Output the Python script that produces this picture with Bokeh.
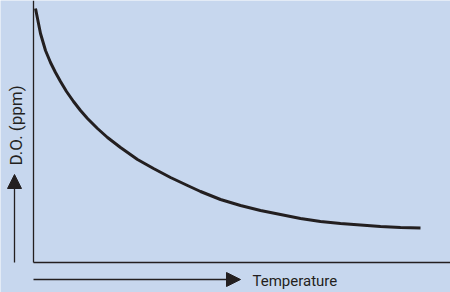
import math
from bokeh.plotting import figure
from bokeh.models import Range1d, Arrow, NormalHead, ColumnDataSource
from bokeh.core.properties import value
from bokeh.embed import file_html
from bokeh.resources import INLINE

# Curve: dissolved oxygen vs temperature (arbitrary units)
temperature = [2, 7, 12, 17, 22, 27, 33, 40, 47, 54, 64, 74, 87, 104, 120, 137, 154, 167,
               187, 207, 227, 247, 267, 287, 307, 327, 347, 367, 387]
do_ppm = [254, 229, 212, 200, 190, 181, 171, 161, 152, 144, 134, 125, 115, 103, 94, 85, 77, 71,
          63, 57, 52, 48, 44, 41, 39, 37.5, 36, 35, 34.5]

x_label = "Temperature"
y_label = "D.O. (ppm)"

BG = "#C7D7EE"
INK = "#231F20"

# axis extents in data units
x_max = 417
y_max = 262

p = figure(width=450, height=292, output_backend="svg", toolbar_location=None,
           x_range=Range1d(-33, 417), y_range=Range1d(-30, 262),
           min_border=0, min_border_left=0, min_border_right=0,
           min_border_top=0, min_border_bottom=0)
p.background_fill_color = BG
p.border_fill_color = BG
p.outline_line_color = None
p.xaxis.visible = False
p.yaxis.visible = False
p.grid.visible = False

# axis lines
p.segment(x0=[0, 0], y0=[0, 0], x1=[0, x_max], y1=[y_max, 0], line_color=INK, line_width=1.3)

# curve
src = ColumnDataSource(dict(t=temperature, d=do_ppm))
p.line("t", "d", source=src, line_color=INK, line_width=3, line_join="round")

# arrows
p.add_layout(Arrow(end=NormalHead(size=14, fill_color=INK, line_color=INK),
                   x_start=0, y_start=-17, x_end=207, y_end=-17,
                   line_color=INK, line_width=1.3))
p.add_layout(Arrow(end=NormalHead(size=14, fill_color=INK, line_color=INK),
                   x_start=-19, y_start=0, x_end=-19, y_end=88,
                   line_color=INK, line_width=1.3))

# labels
p.text(x=[219], y=[-18], text=[x_label], text_font=value("Roboto"),
       text_font_size="15px", text_color=INK, text_align="left", text_baseline="middle")
p.text(x=[-18], y=[97], text=[y_label], text_font=value("Roboto"), angle=math.pi / 2,
       text_font_size="17px", text_color=INK, text_align="left", text_baseline="middle")

open("out.html", "w").write(file_html(p, INLINE))
